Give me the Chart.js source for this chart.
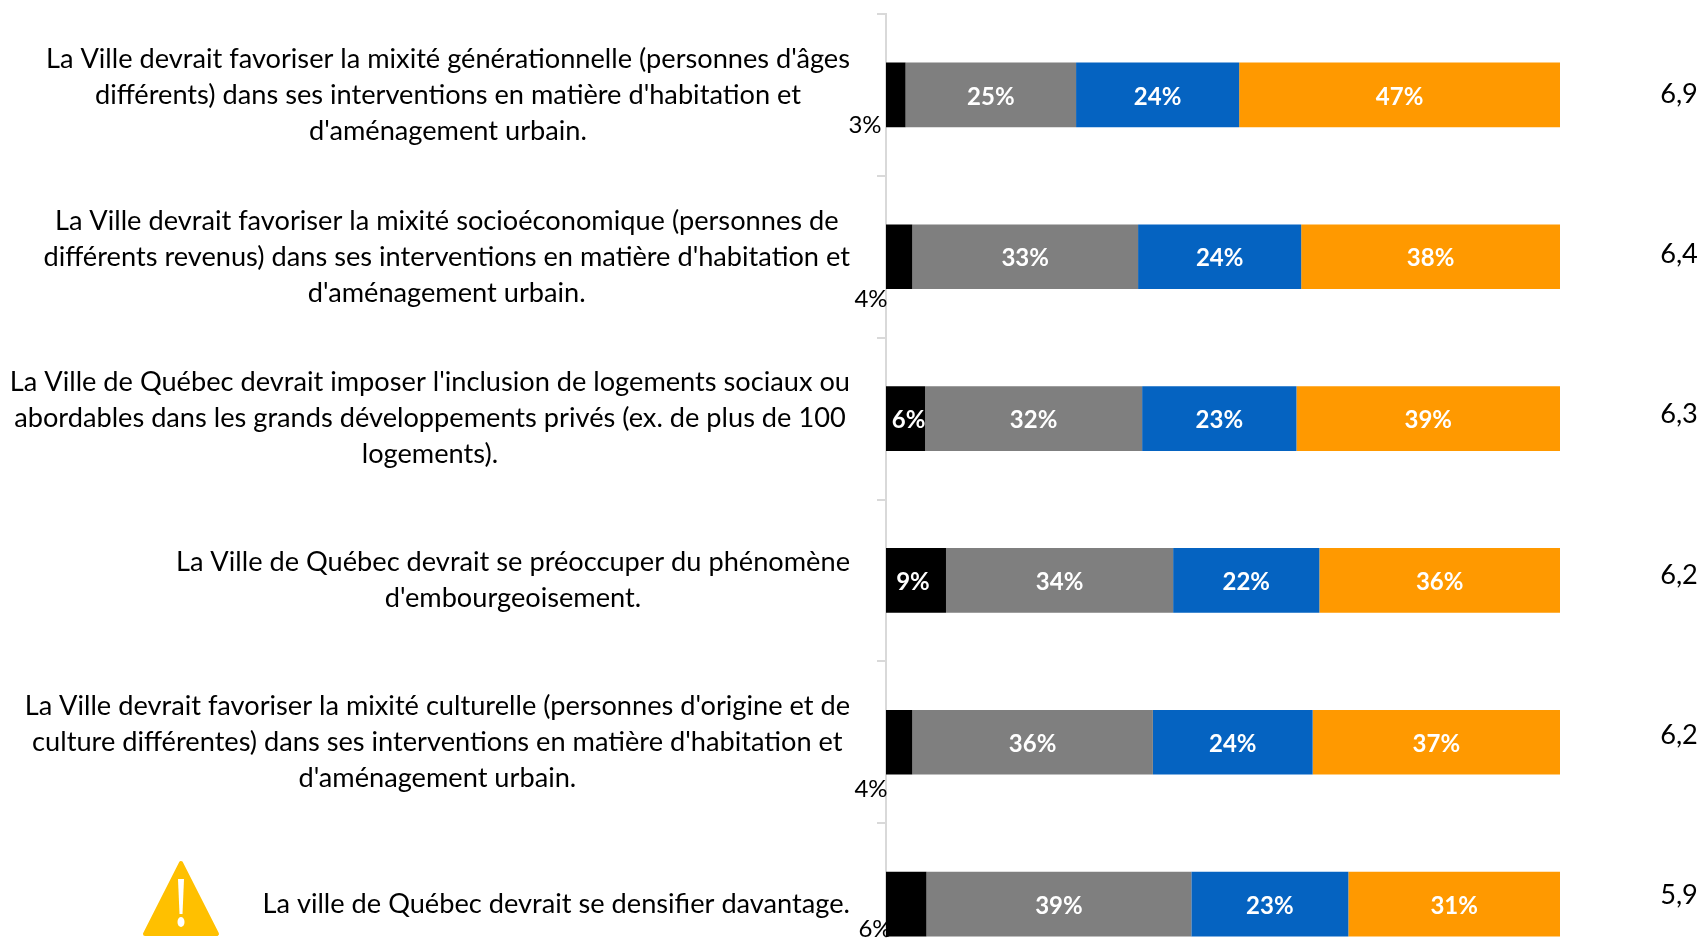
<!DOCTYPE html>
<html lang="fr">
<head>
<meta charset="utf-8">
<title>Mixité et densification</title>
<script src="https://cdn.jsdelivr.net/npm/chart.js@4"></script>
<style>
    html, body { margin: 0; padding: 0; background: #ffffff; overflow: hidden; }
    canvas { position: absolute; left: 0; top: 0; }
</style>
</head>
<body>
<canvas id="chart" width="1702" height="1000"></canvas>
<script>
// Category texts, one entry per line as in the original
const categories = [
    ["La Ville devrait favoriser la mixité générationnelle (personnes d'âges", "différents) dans ses interventions en matière d'habitation et", "d'aménagement urbain."],
    ["La Ville devrait favoriser la mixité socioéconomique (personnes de", "différents revenus) dans ses interventions en matière d'habitation et", "d'aménagement urbain."],
    ["La Ville de Québec devrait imposer l'inclusion de logements sociaux ou", "abordables dans les grands développements privés (ex. de plus de 100", "logements)."],
    ["La Ville de Québec devrait se préoccuper du phénomène", "d'embourgeoisement."],
    ["La Ville devrait favoriser la mixité culturelle (personnes d'origine et de", "culture différentes) dans ses interventions en matière d'habitation et", "d'aménagement urbain."],
    ["La ville de Québec devrait se densifier davantage."]
];

// Shares (each row is a 100% stack)
const blackValues = [2.9, 3.9, 5.8, 8.9, 3.9, 6.0];
const grayValues = [25.3, 33.5, 32.2, 33.7, 35.7, 39.3];
const blueValues = [24.2, 24.2, 22.9, 21.7, 23.7, 23.3];
const orangeValues = [47.6, 38.4, 39.1, 35.7, 36.7, 31.4];

// Printed labels
const blackLabels = ['3%', '4%', '6%', '9%', '4%', '6%'];
const grayLabels = ['25%', '33%', '32%', '34%', '36%', '39%'];
const blueLabels = ['24%', '24%', '23%', '22%', '24%', '23%'];
const orangeLabels = ['47%', '38%', '39%', '36%', '37%', '31%'];
const meanLabels = ['6,9', '6,4', '6,3', '6,2', '6,2', '5,9'];

const FONT = 'Lato, sans-serif';

// The small black shares sit outside of their bar: [dx, dy] from the bar start and middle
const outsideOffsets = { 0: [-21, 30], 1: [-15, 43], 4: [-15, 47], 5: [-11, 25] };
// The two black shares inside their bar are a little off centre
const insideOffsets = { 2: 3, 3: -3 };

const textPlugin = {
    id: 'textPlugin',
    afterDatasetsDraw(chart) {
        const ctx = chart.ctx;
        const yScale = chart.scales.y;
        ctx.save();
        ctx.textBaseline = 'middle';

        // values in the bars
        chart.data.datasets.forEach((dataset, d) => {
            chart.getDatasetMeta(d).data.forEach((bar, i) => {
                const outside = d === 0 && outsideOffsets[i];
                ctx.textAlign = 'center';
                if (outside) {
                    ctx.font = '24px ' + FONT;
                    ctx.fillStyle = '#000000';
                    ctx.fillText(dataset.printed[i], bar.base + outside[0], bar.y + outside[1]);
                } else {
                    const shift = d === 0 ? insideOffsets[i] : 0;
                    ctx.font = 'bold 24px ' + FONT;
                    ctx.fillStyle = '#ffffff';
                    ctx.fillText(dataset.printed[i], (bar.base + bar.x) / 2 + shift, bar.y + 2);
                }
            });
        });

        // question texts, centred lines in a block that ends at the same right edge
        ctx.font = '27.2px ' + FONT;
        ctx.fillStyle = '#000000';
        ctx.textAlign = 'center';
        categories.forEach((lines, i) => {
            const blockWidth = Math.max(...lines.map(l => ctx.measureText(l).width));
            const centerX = 850 - blockWidth / 2;
            const centerY = yScale.getPixelForTick(i);
            lines.forEach((line, n) => {
                ctx.fillText(line, centerX, centerY + (n - (lines.length - 1) / 2) * 36);
            });
        });

        // mean scores on the right
        meanLabels.forEach((label, i) => {
            ctx.fillText(label, 1679, yScale.getPixelForTick(i) - i * 1.55 - 1);
        });

        // warning sign next to the last question
        const signX = 181, signTop = 863, signBottom = 934, signHalf = 36;
        ctx.fillStyle = '#FFC000';
        ctx.strokeStyle = '#FFC000';
        ctx.lineWidth = 4;
        ctx.lineJoin = 'round';
        ctx.beginPath();
        ctx.moveTo(signX, signTop);
        ctx.lineTo(signX + signHalf, signBottom);
        ctx.lineTo(signX - signHalf, signBottom);
        ctx.closePath();
        ctx.fill();
        ctx.stroke();
        ctx.fillStyle = '#ffffff';
        ctx.beginPath();
        ctx.moveTo(signX - 3, 879);
        ctx.lineTo(signX + 3, 879);
        ctx.lineTo(signX + 1.5, 914);
        ctx.lineTo(signX - 1.5, 914);
        ctx.closePath();
        ctx.fill();
        ctx.beginPath();
        ctx.ellipse(signX, 922, 3.5, 5, 0, 0, Math.PI * 2);
        ctx.fill();
        ctx.restore();
    }
};

const ctx = document.getElementById('chart').getContext('2d');

new Chart(ctx, {
    type: 'bar',
    data: {
        labels: categories,
        datasets: [
            { label: 'Série 1', data: blackValues, printed: blackLabels, backgroundColor: '#000000' },
            { label: 'Série 2', data: grayValues, printed: grayLabels, backgroundColor: '#7F7F7F' },
            { label: 'Série 3', data: blueValues, printed: blueLabels, backgroundColor: '#0563C1' },
            { label: 'Série 4', data: orangeValues, printed: orangeLabels, backgroundColor: '#FF9900' }
        ]
    },
    options: {
        indexAxis: 'y',
        responsive: false,
        animation: false,
        barPercentage: 0.4,
        categoryPercentage: 1,
        layout: { padding: { top: 14, right: 142, bottom: 15, left: 0 } },
        plugins: {
            legend: { display: false },
            tooltip: { enabled: false }
        },
        scales: {
            x: {
                stacked: true,
                display: false,
                min: 0,
                max: 100
            },
            y: {
                stacked: true,
                afterFit(axis) { axis.width = 886; },
                border: { color: '#D9D9D9', width: 2 },
                grid: {
                    drawOnChartArea: false,
                    drawTicks: true,
                    tickLength: 9,
                    color: '#D9D9D9',
                    lineWidth: 2
                },
                ticks: { display: false }
            }
        }
    },
    plugins: [textPlugin]
});
</script>
</body>
</html>
